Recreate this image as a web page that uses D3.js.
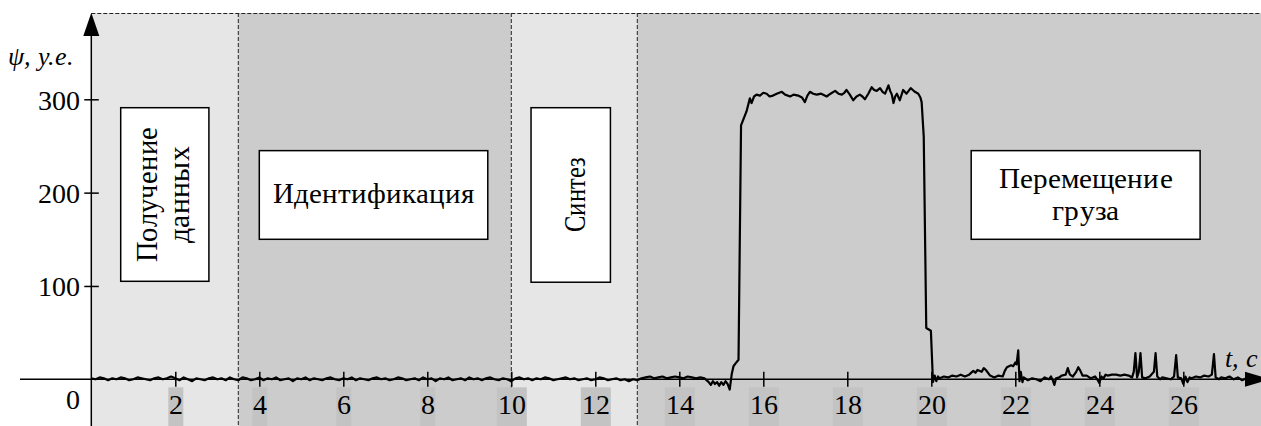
<!DOCTYPE html>
<html lang="ru">
<head>
<meta charset="utf-8">
<title>psi(t)</title>
<script src="https://d3js.org/d3.v7.min.js"></script>
<style>
  @font-face {
    font-family: "ChartSerif";
    src: local("Liberation Serif"), local("LiberationSerif"), local("LiberationSerif-Regular"), local("Tinos"), local("Times New Roman");
    font-style: normal;
  }
  @font-face {
    font-family: "ChartSerif";
    src: local("Liberation Serif Italic"), local("LiberationSerif-Italic"), local("Tinos Italic"), local("Times New Roman Italic");
    font-style: italic;
  }
</style>
</head>
<body style="margin:0">
<script>
// ---- data ----
var phaseBounds = [0, 3.5, 10, 13, 28];           // seconds
var phaseNames = [["Получение", "данных"], ["Идентификация"], ["Синтез"], ["Перемещение", "груза"]];
var xTicks = [2, 4, 6, 8, 10, 12, 14, 16, 18, 20, 22, 24, 26];
var yTicks = [100, 200, 300];

// psi (y.e.) vs t (s)
var signal = [
  [0.0,1],[0.1,0],[0.2,2],[0.3,1],[0.4,-1],[0.5,1],[0.6,0],[0.7,2],[0.8,1],[0.9,-1],
  [1.0,0],[1.1,2],[1.2,1],[1.3,0],[1.4,-1],[1.5,1],[1.6,2],[1.7,0],[1.8,1],[1.9,3],
  [2.0,1],[2.1,-1],[2.2,2],[2.3,0],[2.4,-2],[2.5,1],[2.6,0],[2.7,-1],[2.8,1],[2.9,2],
  [3.0,0],[3.1,1],[3.2,-1],[3.3,2],[3.4,0],[3.5,-1],[3.6,2],[3.7,1],[3.8,-1],[3.9,0],
  [4.0,2],[4.1,-1],[4.2,1],[4.3,0],[4.4,2],[4.5,-1],[4.6,0],[4.7,1],[4.8,-2],[4.9,1],
  [5.0,0],[5.1,2],[5.2,-1],[5.3,1],[5.4,0],[5.5,-1],[5.6,1],[5.7,2],[5.8,0],[5.9,-1],
  [6.0,1],[6.1,0],[6.2,2],[6.3,-1],[6.4,1],[6.5,0],[6.6,-1],[6.7,1],[6.8,2],[6.9,0],
  [7.0,1],[7.1,-1],[7.2,0],[7.3,2],[7.4,1],[7.5,-1],[7.6,0],[7.7,1],[7.8,-1],[7.9,2],
  [8.0,0],[8.1,1],[8.2,-2],[8.3,1],[8.4,0],[8.5,2],[8.6,-1],[8.7,0],[8.8,1],[8.9,-1],
  [9.0,2],[9.1,0],[9.2,1],[9.3,-1],[9.4,1],[9.5,2],[9.6,0],[9.7,-1],[9.8,1],[9.9,0],
  [10.0,-2],[10.1,1],[10.2,2],[10.3,0],[10.4,1],[10.5,-1],[10.6,1],[10.7,0],[10.8,2],[10.9,1],
  [11.0,-1],[11.1,0],[11.2,1],[11.3,2],[11.4,0],[11.5,1],[11.6,-1],[11.7,0],[11.8,1],[11.9,-1],
  [12.0,0],[12.1,2],[12.2,1],[12.3,-1],[12.4,0],[12.5,1],[12.6,-1],[12.7,0],[12.8,-2],[12.9,0],
  [13.0,-1],[13.1,1],[13.2,2],[13.3,3],[13.4,1],[13.5,2],[13.6,3],[13.7,1],[13.8,2],[13.9,3],
  [14.0,2],[14.1,1],[14.2,3],[14.3,2],[14.4,1],[14.5,2],[14.6,1],
  [14.7,-3],[14.75,-6],[14.8,-2],[14.85,-5],[14.9,-3],[14.95,-7],[15.0,-3],[15.05,-6],[15.1,-2],[15.15,-5],
  [15.2,-11],[15.25,6],[15.29,14],[15.34,17],[15.41,21],[15.47,272],
  [15.6,287],[15.68,301],[15.72,296],[15.78,303],[15.84,305],[15.92,304],[16.0,307],[16.08,306],[16.15,303],
  [16.23,304],[16.32,306],[16.44,308],[16.52,305],[16.64,303],[16.72,305],[16.83,304],[16.92,302],[16.99,297],
  [17.05,304],[17.11,308],[17.19,306],[17.27,305],[17.38,306],[17.51,303],[17.6,306],[17.71,309],[17.79,306],
  [17.87,305],[17.93,307],[17.98,310],[18.06,305],[18.14,299],[18.22,303],[18.3,305],[18.36,303],[18.42,300],
  [18.5,306],[18.58,313],[18.64,310],[18.7,309],[18.78,312],[18.84,308],[18.9,306],[18.98,315],[19.02,309],
  [19.06,305],[19.1,296],[19.14,303],[19.18,306],[19.25,299],[19.33,310],[19.41,306],[19.46,309],[19.51,312],
  [19.56,310],[19.61,308],[19.69,306],[19.74,302],[19.77,297],[19.82,260],[19.88,55],[19.99,52],
  [20.04,-3],[20.08,4],[20.12,-2],[20.16,3],[20.2,1],[20.3,3],[20.4,2],[20.5,4],[20.6,3],[20.7,5],
  [20.8,3],[20.9,5],[21.0,9],[21.05,7],[21.1,10],[21.2,8],[21.25,12],[21.3,10],[21.4,4],[21.5,2],
  [21.6,4],[21.7,3],[21.75,9],[21.8,13],[21.9,15],[21.95,14],[22.0,18],[22.03,16],[22.07,31],[22.1,-2],
  [22.13,8],[22.17,-3],[22.2,2],[22.3,-1],[22.4,1],[22.5,0],[22.6,-2],[22.7,2],[22.8,0],[22.85,3],
  [22.9,-2],[22.93,-6],[22.97,1],[23.05,2],[23.1,4],[23.2,5],[23.25,12],[23.3,5],[23.37,3],[23.45,8],
  [23.5,13],[23.55,9],[23.6,4],[23.7,4],[23.8,1],[23.9,3],[23.95,0],[24.0,-4],[24.05,3],[24.1,1],
  [24.15,5],[24.2,4],[24.3,5],[24.4,5],[24.5,4],[24.6,5],[24.7,4],[24.78,2],[24.82,8],[24.86,28],
  [24.9,2],[24.94,8],[24.98,28],[25.02,2],[25.1,1],[25.2,3],[25.3,8],[25.34,28],[25.38,3],[25.45,0],
  [25.5,2],[25.6,1],[25.7,0],[25.78,3],[25.83,26],[25.87,2],[25.95,1],[26.0,-5],[26.05,3],[26.1,-3],
  [26.15,2],[26.2,1],[26.3,3],[26.4,2],[26.5,4],[26.6,3],[26.68,5],[26.73,27],[26.77,2],[26.85,0],
  [26.9,2],[27.0,1],[27.1,3],[27.2,0],[27.3,2],[27.4,-1],[27.5,1],[27.6,2]
];

// ---- layout ----
var width = 1261, height = 426;
var frameTop = 13;
var shades = ["#e6e6e6", "#cccccc"];
var fontFam = "ChartSerif";

// label boxes, in data units (t0..t1, psi lo..hi); rot = vertical text
// shift = baseline offset from box centre, len = text length in px
var boxes = [
  {t0: 0.7,  t1: 2.8,   lo: 105, hi: 291, rot: true,  size: 31, shift: [-8, 24], len: [135, 97]},
  {t0: 4.0,  t1: 9.44,  lo: 150, hi: 245, rot: false, size: 29, shift: [8.5],    len: [201]},
  {t0: 10.47,t1: 12.36, lo: 104, hi: 291, rot: true,  size: 31, shift: [14],     len: [75]},
  {t0: 20.95,t1: 26.4,  lo: 150, hi: 245, rot: false, size: 29, shift: [-6.5, 25], len: [174, 67]}
];

function serifText(sel, size) {
  return sel
    .style("font-family", "'" + fontFam + "'")
    .style("font-size", size + "px")
    .style("fill", "#000");
}

var svg = d3.select("body").append("svg")
  .attr("width", width)
  .attr("height", height);

var x = d3.scaleLinear().domain([0, 28]).range([91.3, 91.3 + 28 * 42]);
var y = d3.scaleLinear().domain([0, 300]).range([379.3, 99.3]);

// phase backgrounds
svg.selectAll("rect.phase")
  .data(d3.range(phaseBounds.length - 1))
  .join("rect")
  .attr("class", "phase")
  .attr("x", function(i) { return x(phaseBounds[i]); })
  .attr("y", frameTop)
  .attr("width", function(i) { return Math.min(x(phaseBounds[i + 1]), width) - x(phaseBounds[i]); })
  .attr("height", height - frameTop)
  .style("fill", function(i) { return shades[i % 2]; });

// dashed frame
svg.append("line")
  .attr("x1", x(0)).attr("x2", width)
  .attr("y1", frameTop + 0.5).attr("y2", frameTop + 0.5)
  .style("stroke", "#222").style("stroke-width", 1).style("stroke-dasharray", "4,2");

svg.selectAll("line.bound")
  .data(phaseBounds.slice(1, -1))
  .join("line")
  .attr("class", "bound")
  .attr("x1", function(d) { return x(d); })
  .attr("x2", function(d) { return x(d); })
  .attr("y1", frameTop).attr("y2", height)
  .style("stroke", "#222").style("stroke-width", 1).style("stroke-dasharray", "4,2");

// phase label boxes
boxes.forEach(function(b, i) {
  var x0 = x(b.t0), x1 = x(b.t1), y0 = y(b.hi), y1 = y(b.lo);
  svg.append("rect")
    .attr("x", x0).attr("y", y0)
    .attr("width", x1 - x0).attr("height", y1 - y0)
    .style("fill", "#fff").style("stroke", "#000").style("stroke-width", 1.5);
  var cx = (x0 + x1) / 2, cy = (y0 + y1) / 2;
  phaseNames[i].forEach(function(name, j) {
    var t = serifText(svg.append("text"), b.size)
      .style("text-anchor", "middle")
      .attr("textLength", b.len[j])
      .attr("lengthAdjust", "spacingAndGlyphs")
      .text(name);
    if (b.rot) {
      t.attr("transform", "translate(" + (cx + b.shift[j]) + "," + cy + ") rotate(-90)");
    } else {
      t.attr("x", cx).attr("y", cy + b.shift[j]);
    }
  });
});

// signal
var psiLine = d3.line()
  .x(function(d) { return x(d[0]); })
  .y(function(d) { return y(d[1]); });

svg.append("path")
  .datum(signal)
  .attr("d", psiLine)
  .style("fill", "none")
  .style("stroke", "#000")
  .style("stroke-width", 2.2)
  .style("stroke-linejoin", "round");

// x axis: crossing ticks, labels on grey patches (digits are 0.5em wide)
var xAxis = svg.append("g")
  .attr("transform", "translate(0," + y(0) + ")")
  .call(d3.axisBottom(x).tickValues(xTicks).tickSize(0).tickFormat(d3.format("d")));
xAxis.select(".domain").remove();
xAxis.selectAll(".tick line").attr("y1", -7.5).attr("y2", 7.5).style("stroke-width", 1.5);
xAxis.selectAll(".tick").insert("rect", "text")
  .attr("x", function(d) { return -String(d).length * 7.5; })
  .attr("y", 387.3 - y(0))
  .attr("width", function(d) { return String(d).length * 15; })
  .attr("height", height - 387.3)
  .style("fill", "#c3c3c3");
serifText(xAxis.selectAll(".tick text"), 28)
  .attr("y", 34.7).attr("dy", null);

var yAxis = svg.append("g")
  .attr("transform", "translate(" + x(0) + ",0)")
  .call(d3.axisLeft(y).tickValues(yTicks).tickSize(0));
yAxis.select(".domain").remove();
yAxis.selectAll(".tick line").attr("x1", -7).attr("x2", 7.5).style("stroke-width", 1.5);
serifText(yAxis.selectAll(".tick text"), 28)
  .attr("x", -11.3).attr("dy", "0.35em");

// axis lines with arrows
svg.append("line")
  .attr("x1", 20).attr("x2", 1247)
  .attr("y1", y(0)).attr("y2", y(0))
  .style("stroke", "#000").style("stroke-width", 1.5);
svg.append("line")
  .attr("x1", x(0)).attr("x2", x(0))
  .attr("y1", 34).attr("y2", height)
  .style("stroke", "#000").style("stroke-width", 1.5);
svg.append("path")
  .attr("d", "M" + x(0) + ",12.7 L" + (x(0) - 8) + ",36 L" + (x(0) + 8) + ",36 Z")
  .style("fill", "#000");
svg.append("path")
  .attr("d", "M1270," + y(0) + " L1245," + (y(0) - 7.5) + " L1245," + (y(0) + 7.5) + " Z")
  .style("fill", "#000");

serifText(svg.append("text"), 28)
  .attr("x", 80).attr("y", 409)
  .style("text-anchor", "end")
  .text("0");

serifText(svg.append("text"), 26)
  .attr("x", 8).attr("y", 65)
  .style("font-style", "italic")
  .text("ψ, у.е.");

serifText(svg.append("text"), 26)
  .attr("x", 1225).attr("y", 366.7)
  .style("font-style", "italic")
  .text("t, с");
</script>
</body>
</html>
